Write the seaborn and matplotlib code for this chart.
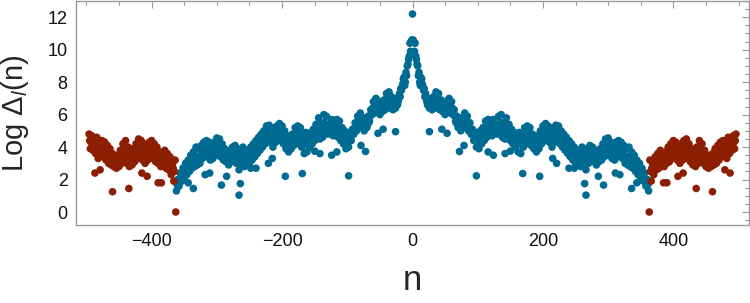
import matplotlib
matplotlib.use("Agg")
import matplotlib.pyplot as plt
import numpy as np
import pandas as pd
import seaborn as sns
from matplotlib.ticker import MultipleLocator

sns.set_theme(style="white")
plt.rcParams['font.family'] = ['Liberation Sans', 'DejaVu Sans']
plt.rcParams['mathtext.fontset'] = 'custom'
plt.rcParams['mathtext.rm'] = 'Liberation Sans'
plt.rcParams['mathtext.it'] = 'Liberation Sans:italic'

# values for n >= 0 (the curve is symmetric in n)
# inner band, even n = 0, 2, ... 362
inner_vals = [
    12.2, 10.5, 10.4, 9.4, 9.0, 8.6, 7.8, 8.2, 7.7, 7.6,
    7.3, 6.8, 7.0, 6.4, 6.9, 6.3, 7.1, 6.4, 7.4, 6.6,
    7.3, 6.3, 6.9, 6.2, 6.7, 6.0, 6.8, 6.2, 7.0, 6.1,
    6.8, 6.0, 6.3, 5.6, 5.9, 5.2, 5.8, 5.0, 5.6, 5.2,
    6.1, 5.3, 5.9, 5.0, 5.5, 4.8, 5.1, 4.4, 4.9, 4.0,
    4.6, 3.9, 5.0, 4.2, 5.2, 4.4, 5.6, 4.6, 5.7, 4.8,
    5.5, 4.7, 5.7, 5.0, 5.4, 4.8, 5.9, 5.0, 6.0, 4.6,
    5.5, 4.5, 5.8, 4.8, 5.4, 4.4, 5.1, 4.2, 4.9, 4.0,
    4.7, 3.7, 4.9, 3.6, 4.6, 4.0, 5.2, 4.2, 5.3, 4.4,
    5.2, 4.1, 4.8, 3.9, 4.6, 3.7, 4.7, 3.9, 5.0, 4.2,
    5.3, 4.4, 5.45, 4.6, 5.3, 4.3, 5.0, 4.0, 5.2, 4.3,
    5.35, 4.4, 5.3, 4.2, 5.0, 4.0, 4.8, 3.8, 4.6, 3.6,
    4.4, 3.4, 4.2, 3.2, 4.0, 3.0, 3.8, 2.9, 3.7, 2.8,
    4.0, 2.9, 3.8, 2.6, 3.9, 3.0, 4.1, 3.2, 4.0, 3.1,
    3.8, 2.9, 3.6, 3.1, 3.9, 3.2, 4.2, 3.4, 4.5, 3.5,
    4.56, 3.6, 4.3, 3.3, 4.0, 3.2, 4.3, 3.4, 4.4, 3.5,
    4.3, 3.3, 4.1, 3.0, 3.9, 2.9, 4.0, 2.8, 3.7, 2.7,
    3.5, 2.5, 3.2, 2.3, 3.0, 2.1, 2.7, 1.9, 2.4, 1.6,
    2.0, 1.3,
]
inner_n = list(range(0, 363, 2))

# inner band, odd n = 1, 3, ... 361 (points in the middle of the band)
inner_mid_vals = [
    10.6, 9.9, 9.6, 9.1, 8.4, 8.0, 8.3, 7.9, 7.5, 7.1,
    7.0, 6.6, 6.7, 6.6, 6.6, 6.8, 6.7, 7.0, 7.1, 6.9,
    6.8, 6.6, 6.5, 6.4, 6.4, 6.5, 6.6, 6.5, 6.6, 6.5,
    6.4, 6.1, 5.9, 5.5, 5.4, 5.4, 5.4, 5.3, 5.4, 5.6,
    5.7, 5.6, 5.4, 5.2, 5.1, 4.8, 4.7, 4.6, 4.5, 4.3,
    4.2, 4.4, 4.6, 4.7, 4.9, 5.0, 5.1, 5.2, 5.2, 5.2,
    5.1, 5.2, 5.3, 5.2, 5.1, 5.3, 5.4, 5.5, 5.4, 5.2,
    5.0, 5.1, 5.2, 5.0, 4.9, 4.8, 4.7, 4.6, 4.5, 4.4,
    4.2, 4.2, 4.3, 4.3, 4.5, 4.7, 4.8, 4.9, 4.8, 4.7,
    4.6, 4.6, 4.4, 4.2, 4.1, 4.2, 4.3, 4.4, 4.6, 4.8,
    4.9, 5.0, 5.0, 4.9, 4.7, 4.5, 4.6, 4.7, 4.8, 4.8,
    4.9, 4.9, 4.7, 4.6, 4.5, 4.4, 4.3, 4.2, 4.1, 4.0,
    3.9, 3.8, 3.6, 3.5, 3.4, 3.3, 3.3, 3.3, 3.2, 3.3,
    3.4, 3.3, 3.2, 3.3, 3.4, 3.5, 3.6, 3.6, 3.6, 3.5,
    3.4, 3.3, 3.4, 3.5, 3.6, 3.7, 3.8, 3.9, 4.0, 4.0,
    4.1, 4.0, 3.8, 3.7, 3.6, 3.8, 3.9, 3.9, 4.0, 3.9,
    3.8, 3.6, 3.5, 3.4, 3.4, 3.4, 3.3, 3.2, 3.2, 3.1,
    3.0, 2.9, 2.7, 2.6, 2.4, 2.3, 2.2, 2.1, 2.0, 1.9,
    1.7,
]
inner_mid_n = list(range(1, 362, 2))

# outer band, even n = 364, 366, ... 496
outer_vals = [
    3.2, 1.9, 3.0, 2.3, 3.4, 2.6, 3.6, 2.7, 3.8, 2.9,
    3.5, 2.8, 3.7, 3.0, 4.0, 3.1, 4.2, 3.3, 4.4, 3.4,
    4.3, 3.2, 4.0, 3.0, 4.2, 3.2, 4.4, 3.5, 4.5, 3.3,
    4.2, 3.1, 3.9, 2.9, 3.7, 2.8, 4.0, 3.0, 4.4, 3.2,
    4.2, 3.0, 3.8, 2.8, 3.5, 2.7, 3.3, 2.8, 3.6, 2.9,
    3.9, 3.0, 4.1, 3.2, 4.3, 3.4, 4.4, 3.5, 4.3, 3.3,
    4.6, 3.6, 4.5, 3.8, 4.7, 3.9, 4.8,
]
outer_n = list(range(364, 497, 2))

# outer band, odd n = 365, 367, ... 495
outer_mid_vals = [
    2.5, 2.7, 2.8, 3.0, 3.1, 3.2, 3.2, 3.3, 3.3, 3.2,
    3.2, 3.3, 3.4, 3.5, 3.6, 3.7, 3.8, 3.9, 3.9, 3.8,
    3.7, 3.6, 3.5, 3.6, 3.7, 3.8, 3.9, 4.0, 3.9, 3.8,
    3.6, 3.5, 3.4, 3.3, 3.3, 3.4, 3.5, 3.6, 3.8, 3.7,
    3.6, 3.4, 3.3, 3.1, 3.0, 3.0, 3.1, 3.2, 3.3, 3.4,
    3.5, 3.6, 3.7, 3.8, 3.9, 3.9, 3.9, 3.8, 3.8, 3.9,
    4.0, 4.1, 4.2, 4.3, 4.3, 4.4,
]
outer_mid_n = list(range(365, 496, 2))

# isolated low points
inner_low_n = [26, 45, 53, 72, 79, 98, 116, 124, 142, 150, 169, 195, 215, 221,
               240, 248, 264, 266, 285, 293, 311, 318, 336, 344, 359]
inner_low_v = [4.95, 5.1, 4.85, 3.73, 4.1, 2.23, 3.7, 3.5, 3.6, 3.75, 2.37, 2.2, 3.3, 3.0,
               2.7, 2.7, 1.75, 1.04, 2.2, 1.66, 2.4, 2.3, 1.45, 1.8, 1.6]
outer_low_n = [363, 385, 390, 407, 415, 435, 460, 479, 487]
outer_low_v = [0.0, 1.8, 1.8, 2.2, 2.4, 1.45, 1.25, 2.6, 2.4]


def mirror(ns, vs):
    ns = np.asarray(ns)
    vs = np.asarray(vs)
    keep = ns > 0
    return np.concatenate([-ns[keep][::-1], ns]), np.concatenate([vs[keep][::-1], vs])


parts = []
for ns, vs, grp in [(inner_n, inner_vals, 'inner'), (inner_mid_n, inner_mid_vals, 'inner'),
                    (inner_low_n, inner_low_v, 'inner'),
                    (outer_n, outer_vals, 'outer'), (outer_mid_n, outer_mid_vals, 'outer'),
                    (outer_low_n, outer_low_v, 'outer')]:
    n_full, v_full = mirror(ns, vs)
    parts.append(pd.DataFrame({'n': n_full, 'logdelta': v_full, 'part': grp}))
df = pd.concat(parts, ignore_index=True)

fig = plt.figure(figsize=(7.5, 3.03), dpi=100)
ax = fig.add_axes([76 / 750, 78 / 303, 673 / 750, 224 / 303])
sns.scatterplot(data=df, x='n', y='logdelta', hue='part',
                palette={'inner': '#006b92', 'outer': '#8c1e02'},
                s=30, linewidth=0, legend=False, ax=ax, zorder=3)

ax.set_xlim(-516, 516)
ax.set_ylim(-0.8, 13.0)
ax.xaxis.set_major_locator(MultipleLocator(200))
ax.xaxis.set_minor_locator(MultipleLocator(50))
ax.yaxis.set_major_locator(MultipleLocator(2))
ax.yaxis.set_minor_locator(MultipleLocator(0.5))
ax.tick_params(which='both', direction='in', top=True, right=True, color='#999999',
               labelsize=13, labelcolor='#111111', width=0.8)
ax.tick_params(which='major', length=5, pad=6)
ax.tick_params(which='minor', length=3)
for sp in ax.spines.values():
    sp.set_color('#999999')
    sp.set_linewidth(1.0)
ax.xaxis.set_major_formatter(plt.FuncFormatter(lambda v, p: f'{int(v)}'.replace('-', '\u2212')))
ax.set_xlabel('n', fontsize=25, labelpad=10)
ax.set_ylabel(r'Log $\Delta_{l}$(n)', fontsize=21, labelpad=12)
ax.grid(False)

fig.savefig('out.png', dpi=100)
